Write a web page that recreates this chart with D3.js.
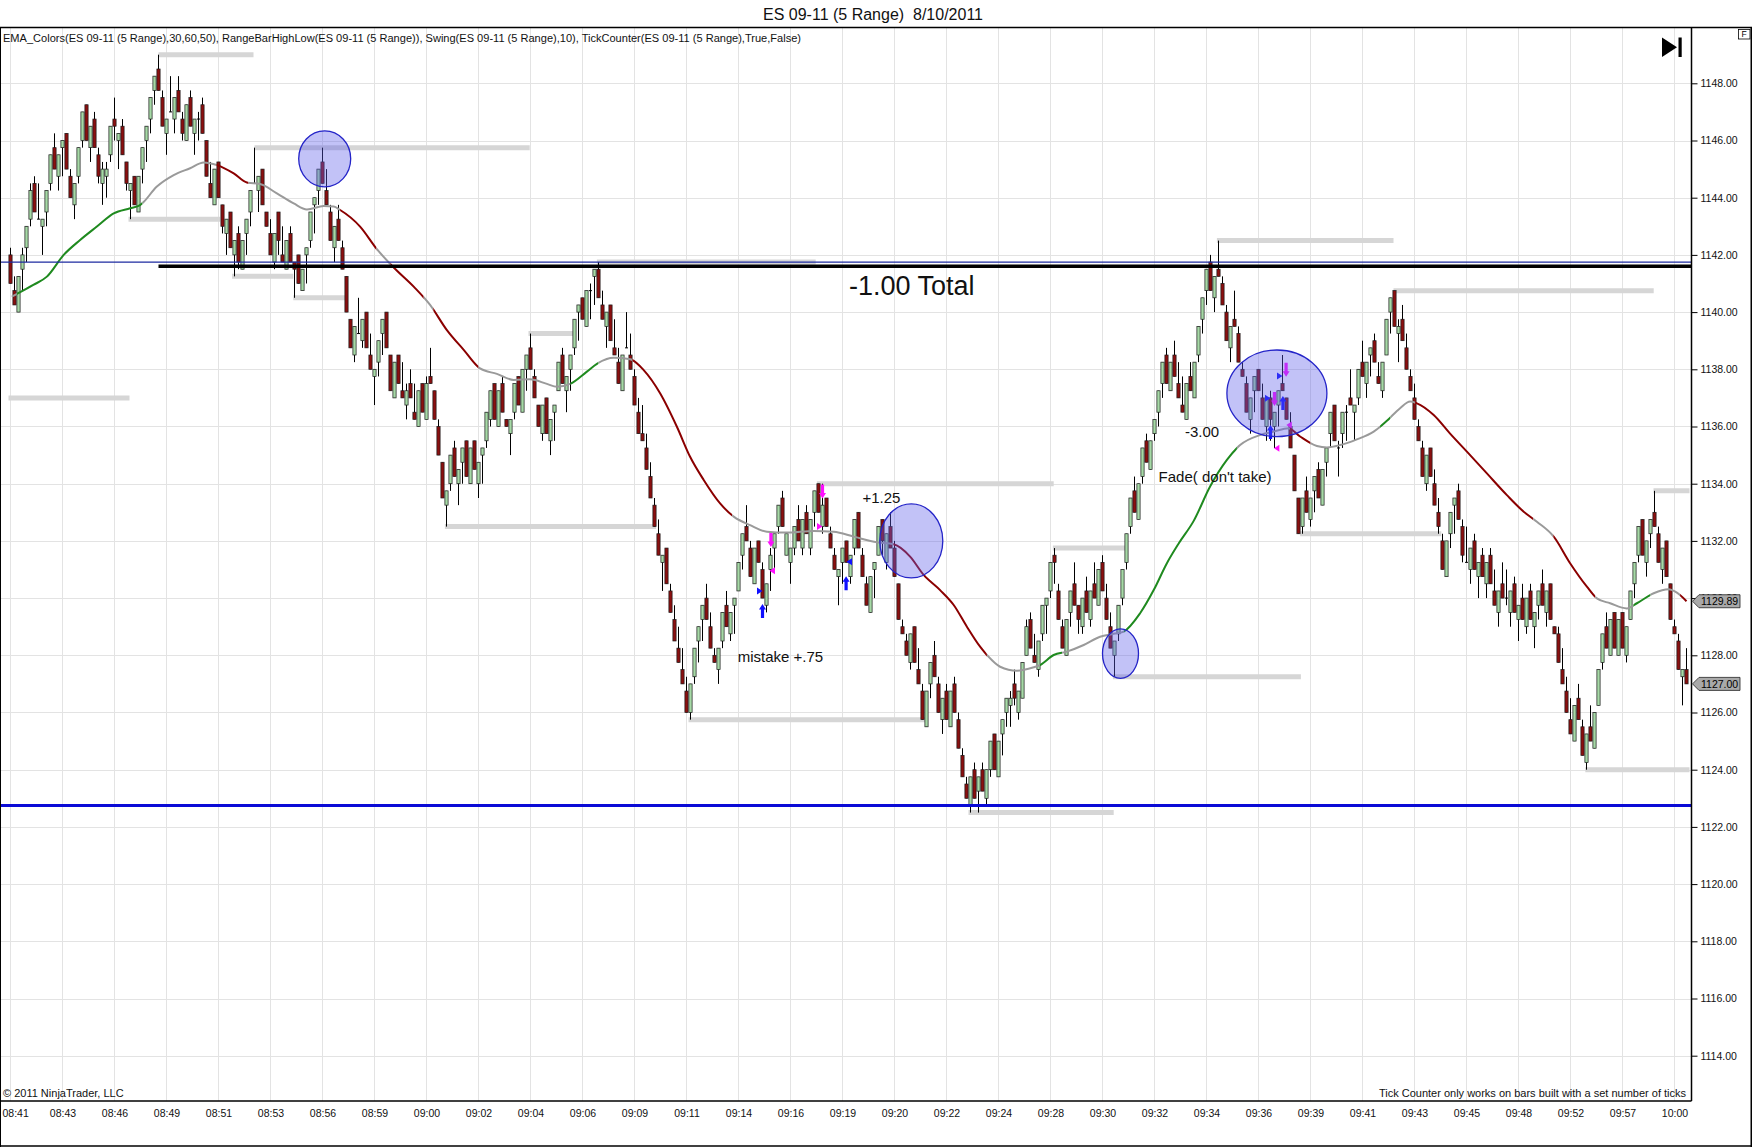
<!DOCTYPE html>
<html><head><meta charset="utf-8">
<script src="https://cdn.jsdelivr.net/npm/d3@7"></script>
<style>
html,body{margin:0;padding:0;background:#fff;}
svg{display:block;font-family:"Liberation Sans",Arial,Helvetica,sans-serif;}
</style>
</head><body>
<svg id="chart" width="1752" height="1147"></svg>
<script>
// ---------------- DATA ----------------
const opens=[1142,1140.75,1140,1141.5,1142.25,1143.25,1144.5,1143.25,1143,1143.5,
1144.5,1145.75,1144.75,1145.75,1146.25,1144.75,1143.75,1144.75,1146,1147.25,
1145.75,1146.75,1145.5,1144.5,1144.75,1145.5,1146.75,1146,1146.5,1145.25,
1144.25,1144.75,1143.5,1145,1146,1146.75,1147.75,1148.5,1147.5,1146.25,
1147,1146.75,1147.75,1146.75,1146,1147.5,1146.25,1146.75,1147.25,1146,
1144.5,1143.75,1145.25,1143.75,1142.75,1143.5,1142,1142.75,1141.5,1142.75,
1143.5,1144.5,1144.25,1145,1143.5,1142.75,1141.75,1143.5,1142,1141.5,
1142.75,1141.75,1142,1140.75,1142,1142.5,1143.75,1144.25,1145.25,1144.25,
1143.5,1142.25,1143.25,1142.25,1141.25,1139.75,1138.5,1139.25,1139,1140,
1138.5,1137.75,1138.25,1139.25,1140,1138.5,1137,1138.5,1137.25,1136.75,
1137.5,1136.5,1136,1137.5,1136.25,1137.75,1137.25,1136,1134.75,1133.25,
1134,1135.25,1134,1134.75,1135.5,1134,1135.5,1134,1135,1135.5,
1136.25,1137.5,1136,1137.5,1136.25,1135.75,1136.5,1137.75,1136.5,1138,
1138.75,1137.75,1136.75,1135.75,1137,1135.5,1136.5,1137.25,1138.5,1137.25,
1138,1138.75,1140,1140.5,1139.5,1140.75,1141.25,1141.5,1140.25,1139.5,
1140.25,1138.75,1138.25,1137.25,1138.75,1138.5,1137.75,1136.5,1135.75,1135.25,
1134.25,1133.25,1132.25,1131.25,1131.75,1130.25,1129.25,1128.25,1127.5,1126.75,
1126,1127.25,1128.5,1129.25,1130,1129,1128,1127.5,1128.5,1129.75,
1128.75,1129.75,1130.25,1131.5,1132.5,1131.75,1130.5,1132,1131,1129.75,
1131,1131.75,1132.5,1133.5,1131.5,1131.25,1131.75,1132.75,1131.75,1133,
1131.75,1133,1134,1132.5,1133.5,1132.25,1131.5,1130.75,1131.25,1132,
1130.75,1131.75,1133,1131.5,1130.5,1129.5,1131,1131.5,1132.75,1131.25,
1132.5,1131.75,1130.5,1129,1128.5,1127.75,1129,1127.5,1126.75,1125.5,
1127,1128,1127,1125.75,1126.75,1125.5,1127,1125.75,1124.5,1123.5,
1122.75,1124,1123.25,1124,1123,1124,1125.25,1123.75,1125.25,1126,
1126.25,1127,1126,1126.5,1128,1129.25,1128,1127.5,1128.75,1129.75,
1130.25,1131.5,1130.25,1129,1128,1129.5,1130.5,1129.75,1129,1130.25,
1129.25,1130.5,1129.75,1131.25,1130,1129,1128,1128.75,1130,1131.25,
1132.5,1133.75,1132.75,1134.25,1135.5,1134.5,1135.75,1136.5,1137.5,1138.5,
1137.25,1138.5,1137.5,1136.75,1136.25,1137.75,1137,1138.5,1139.75,1140.75,
1141.75,1140.5,1141.5,1141,1140,1138.75,1139.75,1139.25,1138,1137.5,
1136.25,1137.25,1138,1137,1136,1137,1136,1136.75,1137.5,1137,
1136,1135,1133.5,1132.5,1133.75,1132.75,1133.75,1134.5,1133.25,1134.75,
1135.75,1136.75,1135.25,1135.75,1136.5,1137,1136.5,1137,1138.25,1137.5,
1138.5,1139,1137.75,1137.25,1138.5,1140,1140.75,1139.25,1139.75,1138.75,
1137.75,1137,1136,1135.25,1134,1135.25,1134,1133,1132,1130.75,
1132.25,1133.25,1133.75,1132.5,1131.25,1131,1132,1130.75,1131.5,1130.5,
1131.5,1130.25,1129.5,1130.5,1130,1129.5,1130.5,1129.25,1130,1129,
1130.25,1129,1129.75,1130.5,1129.5,1130.5,1129,1128.75,1127.5,1126.75,
1125.75,1125,1126.5,1125.5,1124.25,1125.5,1124.75,1126.25,1127.75,1129,
1128,1129.5,1128,1129.5,1128,1129.25,1130.5,1131.5,1132.75,1131.25,
1132.25,1133,1132.25,1131,1132,1130.5,1129,1128.5,1127.25,1127.5];

const highs=[1142.25,1141.25,1141.25,1142.25,1143,1144.5,1144.75,1144.5,1143.25,1144.25,
1145.5,1146.25,1145.5,1146,1146.25,1145,1144.5,1145.75,1147,1147.25,
1146.5,1147,1145.75,1145.25,1145.25,1146.5,1147.5,1146.25,1146.75,1145.25,
1144.5,1144.75,1144.75,1145.75,1146.5,1147.5,1148.25,1149,1147.75,1146.75,
1148.25,1147.5,1148.25,1147,1147.25,1147.75,1146.75,1147,1147.5,1146,
1145.25,1145,1145.25,1143.75,1143.25,1143.5,1142.5,1143,1142.5,1143.25,
1144.25,1145.75,1144.75,1145,1143.5,1143.25,1142.75,1143.5,1143,1142.5,
1143,1141.75,1142,1141.5,1142.25,1143.5,1144,1145,1145.75,1145,
1143.75,1143,1143.75,1142.5,1141.25,1139.75,1139.5,1140.5,1139.75,1140,
1139.25,1138,1139,1139.75,1140,1138.5,1138.25,1138.5,1138.25,1137.5,
1138,1137.5,1137.25,1137.5,1137.75,1138.75,1137.25,1136.25,1134.75,1133.75,
1135,1135.5,1134.5,1135.25,1135.5,1135.25,1135.5,1134.75,1135.25,1136.5,
1137.25,1137.5,1137.25,1137.75,1136.25,1136.25,1137.5,1137.75,1138,1138.5,
1139.25,1138,1136.75,1136.75,1137,1136.25,1136.75,1138.25,1138.75,1137.75,
1138.5,1139.75,1140.25,1140.5,1140.75,1141,1141.5,1141.75,1140.75,1140,
1140.25,1139.75,1138.75,1138.5,1140,1139.25,1138,1137,1136.75,1135.75,
1134.75,1133.5,1132.75,1131.5,1131.75,1130.5,1129.75,1129,1128.25,1127.25,
1127,1128.25,1129,1129.75,1130.5,1129.5,1128.25,1128.25,1129.5,1130.25,
1129.5,1130,1131.25,1132.25,1133.25,1132,1131.75,1132,1131.25,1130.5,
1131.75,1132.25,1133.25,1133.75,1132.25,1131.75,1132.5,1133.25,1132.75,1133.25,
1132.75,1133.75,1134,1134,1133.5,1132.5,1131.75,1131,1131.75,1132,
1131.5,1132.75,1133,1131.75,1130.75,1130.75,1131.25,1132.5,1132.75,1132.25,
1133,1132,1130.5,1129.25,1128.75,1128.75,1129,1128.25,1127,1126.75,
1127.75,1128.5,1127.25,1126.5,1127,1126.75,1127.25,1126,1124.75,1123.75,
1123.75,1124.25,1123.75,1124.25,1124,1125,1125.25,1125,1125.75,1126.5,
1126.75,1127.5,1126.75,1127.75,1129.25,1129.5,1128.75,1128.5,1129.75,1130,
1131.25,1131.75,1130.5,1129.25,1129.25,1130.25,1131.25,1129.75,1130,1130.75,
1130.25,1131.25,1131,1131.5,1130.5,1129.5,1128.5,1129.75,1131,1132.25,
1133.5,1134.25,1134,1135.25,1135.75,1135.5,1136.25,1137.25,1138.25,1138.75,
1138.25,1139,1138.25,1137.75,1137.5,1138.25,1138.25,1139.5,1140.5,1141.5,
1142,1141.25,1142.5,1141.25,1140.25,1139.5,1140.75,1139.5,1138.25,1137.75,
1137,1137.75,1138,1137.5,1137,1137.25,1136.5,1137.25,1138.5,1137,
1136.5,1135,1133.5,1133.5,1134.25,1133.5,1134.25,1134.75,1134.5,1135.25,
1136.5,1136.75,1135.5,1136.5,1136.75,1138,1136.75,1138,1139,1138.25,
1138.75,1139.25,1138.25,1138.25,1139.75,1140.5,1140.75,1139.75,1140.25,1139.25,
1138,1137.5,1136.25,1135.5,1135,1135.25,1134.5,1133.5,1132.25,1132,
1133,1133.5,1134,1132.75,1132.5,1131.75,1132.25,1131.25,1131.75,1131.25,
1131.75,1131,1130.25,1131.25,1131,1130.25,1130.75,1129.75,1130.5,1130,
1130.5,1129.5,1130.25,1131,1130.25,1130.5,1129,1129,1128.25,1127.25,
1126.5,1126.25,1127,1125.75,1125.25,1126.25,1126,1127.5,1128.75,1129.5,
1129.25,1129.5,1129.25,1129.5,1129,1130.25,1131.25,1132.5,1132.75,1132,
1132.75,1133.75,1132.5,1131.75,1132,1130.5,1129.25,1128.75,1127.5,1128.25];

const lows=[1141,1140.25,1140,1140.75,1141.75,1143,1143.5,1143.25,1142,1143,
1144.25,1145,1144.25,1144.75,1145,1144,1143.25,1144.5,1145.75,1146,
1145.25,1145.75,1144.5,1143.75,1144,1145.25,1146,1145,1145.5,1144.25,
1143.25,1143.75,1143.5,1144.5,1145.25,1146.25,1147.25,1147.75,1146.5,1145.5,
1147,1146.25,1147,1146,1146,1146.5,1145.5,1146,1146.25,1144.75,
1144,1143.75,1144,1142.75,1142,1142.25,1141.25,1141.5,1141.5,1142,
1143,1144.5,1143.5,1143.75,1143,1142,1141.5,1142,1141.75,1141.5,
1141.75,1140.5,1141,1140.75,1141,1142.25,1142.75,1143.75,1144.5,1143.75,
1142.5,1141.75,1142.5,1141.5,1140,1138.75,1138.25,1139.25,1138.75,1138.75,
1138,1136.75,1137.75,1138.5,1138.75,1137.25,1137,1137.5,1137,1136.25,
1137,1136.25,1136,1136.5,1136.25,1137.5,1136.25,1135,1133.5,1132.5,
1133.75,1134.25,1133.25,1134,1134.25,1134,1134.5,1133.5,1134,1135.25,
1136,1136.25,1136,1136.5,1136,1135,1136.25,1136.75,1136.5,1137.25,
1138,1137,1136,1135.5,1135.75,1135,1135.5,1137.25,1137.5,1136.5,
1137.25,1138.5,1139,1139.75,1139.5,1139.75,1140.25,1140.5,1139.75,1138.75,
1139,1138.5,1137.5,1137.25,1138.75,1138,1136.75,1135.75,1135.5,1134.5,
1133.5,1132.5,1131.5,1130.25,1130.5,1129.5,1128.5,1127.75,1127,1126,
1125.75,1127,1127.75,1128.5,1129.25,1128.25,1127.75,1127,1128.25,1129,
1128.5,1128.75,1130.25,1131,1132,1130.75,1130.5,1131.25,1130,1129.5,
1130.25,1131,1132.25,1132.5,1131.5,1130.5,1131.5,1132,1131.5,1132.25,
1131.5,1132.5,1133,1132.25,1132.5,1131.75,1131,1129.75,1130.5,1131.25,
1130.5,1131.5,1131.75,1130.75,1129.75,1129.5,1130,1131.5,1131.5,1131,
1131.75,1130.75,1129.25,1128.75,1128,1127.5,1127.75,1127,1125.75,1125.5,
1126.5,1127.25,1126,1125.25,1125.75,1125.5,1126,1124.75,1123.75,1123,
1122.5,1123,1122.5,1123.25,1122.75,1123.75,1124,1123.75,1124.5,1125.5,
1125.5,1126.25,1125.75,1126.5,1128,1128.25,1127.75,1127.25,1128.5,1128.75,
1130,1130.5,1129.25,1128.25,1128,1129,1129.75,1128.75,1128.75,1129.5,
1129,1130,1129.75,1130.25,1129.25,1128.25,1127.25,1128.5,1129.75,1131,
1132.25,1133,1132.75,1134,1134.75,1134.5,1135.5,1136,1137,1137.5,
1137.25,1137.75,1137,1136.5,1136.25,1137.25,1137,1138.25,1139.25,1140.25,
1140.75,1140,1141.25,1140.25,1139,1138.25,1139.5,1138.25,1137.75,1136.5,
1135.75,1136.5,1137.25,1136.25,1135.5,1135.5,1135.25,1136,1137.25,1136.25,
1135.25,1133.75,1132.25,1132.25,1133,1132.5,1133,1133.5,1133.25,1134.25,
1135.25,1135.5,1134.25,1135.25,1135.5,1136.75,1135.5,1136.75,1137.75,1137,
1137.75,1138.25,1137.5,1137,1138.5,1139.25,1139.5,1138.25,1139,1138,
1137.25,1136.25,1135.5,1134.25,1133.75,1134.25,1133.25,1132.25,1131,1130.75,
1131.75,1132.25,1132.75,1131.25,1131.25,1130.5,1131,1130,1130.75,1130,
1130.5,1129.75,1129,1130,1129.75,1129,1129.5,1128.5,1129.25,1128.75,
1129.25,1128.25,1129.25,1129.75,1129,1129.25,1128.75,1127.75,1127,1126,
1125.25,1125,1125.75,1124.5,1124,1125,1124.75,1126.25,1127.5,1128.25,
1128,1128.25,1128,1128.25,1127.75,1129.25,1130,1131.25,1131.5,1130.75,
1131.75,1132.5,1131.25,1130.5,1130.75,1129.25,1128.75,1127.5,1126.25,1127];

const closes=[1141,1140.25,1141.25,1142,1143,1144.25,1143.5,1143.25,1143.25,1144.25,
1145.5,1145,1145.5,1146,1145,1144,1144.5,1145.75,1147,1146,
1146.5,1145.75,1144.75,1145,1145,1146.5,1146.5,1146.25,1145.5,1144.5,
1144.5,1143.75,1144.75,1145.75,1146.5,1147.5,1148.25,1147.75,1146.5,1146.75,
1147,1147.5,1147,1146.25,1147.25,1146.5,1146.75,1146.75,1146.25,1144.75,
1144,1145,1144,1143,1143.25,1142.25,1142.5,1141.75,1142.5,1143.25,
1144.25,1144.5,1144.75,1143.75,1143,1142,1142.75,1142.5,1141.75,1142.5,
1141.75,1141.5,1141,1141.5,1142.25,1143.5,1144,1145,1144.5,1143.75,
1142.5,1143,1142.5,1141.5,1140,1138.75,1139.5,1139.25,1139.75,1138.75,
1138,1138,1139,1139.75,1138.75,1137.25,1138.25,1137.5,1137,1137.25,
1137,1136.25,1137.25,1136.5,1137.5,1137.5,1136.25,1135,1133.5,1133.75,
1135,1134.25,1134.5,1135.25,1134.25,1135.25,1134.5,1134.75,1135.25,1136.5,
1137.25,1136.25,1137.25,1136.5,1136,1136.25,1137.5,1136.75,1138,1138.5,
1138,1137,1136,1136.75,1135.75,1136.25,1136.75,1138.25,1137.5,1137.75,
1138.5,1139.75,1140.25,1139.75,1140.75,1140.75,1141.5,1140.5,1139.75,1140,
1139,1138.5,1137.5,1138.5,1138.75,1138,1136.75,1135.75,1135.5,1134.5,
1133.5,1132.5,1131.5,1131.5,1130.5,1129.5,1128.5,1127.75,1127,1126,
1127,1128.25,1129,1129.75,1129.25,1128.25,1127.75,1128.25,1129.5,1129,
1129.5,1130,1131.25,1132.25,1132,1130.75,1131.75,1131.25,1130,1130.5,
1131.5,1132.25,1133.25,1132.5,1132.25,1131.75,1132.5,1132,1132.75,1132.25,
1132.75,1133.75,1133,1133.25,1132.5,1131.75,1131,1131,1131.75,1131.25,
1131.5,1132.75,1131.75,1130.75,1129.75,1130.75,1131.25,1132.5,1132,1132.25,
1131.75,1130.75,1129.25,1128.75,1128,1128.75,1127.75,1127,1125.75,1126.75,
1127.75,1127.25,1126,1126.5,1125.75,1126.75,1126,1124.75,1123.75,1123,
1123.75,1123,1123.75,1123.25,1124,1125,1124,1125,1125.75,1126.5,
1126.5,1126.5,1126.75,1127.75,1129,1128.25,1127.75,1128.5,1129.75,1130,
1131.25,1131.25,1129.25,1128.25,1129.25,1130.25,1129.75,1129.25,1130,1129.5,
1130.25,1130,1131,1130.25,1129.25,1128.25,1128.5,1129.75,1131,1132.25,
1133.5,1133,1134,1135.25,1134.75,1135.5,1136.25,1137.25,1138.25,1137.5,
1138.25,1137.75,1137,1136.5,1137.5,1137.25,1138.25,1139.5,1140.5,1141.5,
1140.75,1141.25,1141.25,1140.25,1139,1139.5,1139.5,1138.25,1137.75,1136.5,
1137,1137.75,1137.25,1136.25,1137,1136.25,1136.5,1137.25,1137.25,1136.25,
1135.25,1133.75,1132.25,1133.5,1133,1133.5,1134.25,1133.5,1134.5,1135.25,
1136.5,1135.5,1135.25,1136.5,1136.5,1136.75,1136.75,1138,1137.75,1138.25,
1138.75,1138.25,1137.5,1138.25,1139.75,1140.5,1139.5,1139.5,1139,1138,
1137.25,1136.25,1135.5,1134.25,1135,1134.25,1133.25,1132.5,1131,1132,
1133,1133.5,1132.75,1131.5,1131.25,1131.75,1131,1131.25,1130.75,1131.25,
1130.5,1129.75,1130.25,1130,1130,1130.25,1129.5,1129.75,1129.25,1130,
1129.25,1129.5,1130.25,1129.75,1130.25,1129.25,1128.75,1127.75,1127,1126,
1125.25,1126.25,1125.75,1124.5,1125.25,1125,1126,1127.5,1128.75,1128.25,
1129.25,1128.25,1129.25,1128.25,1129,1130.25,1131.25,1132.5,1131.5,1132,
1132.75,1132.5,1131.25,1131.75,1130.75,1129.25,1128.75,1127.5,1127.5,1127];

const timeLabels=["08:41","08:43","08:46","08:49","08:51","08:53","08:56","08:59","09:00","09:02","09:04",
"09:06","09:09","09:11","09:14","09:16","09:19","09:20","09:22","09:24","09:28","09:30","09:32",
"09:34","09:36","09:39","09:41","09:43","09:45","09:48","09:52","09:57","10:00"];
const timeLabelBars=[0,13,26,39,52,65,78,91,104,117,130,143,156,169,182,195,208,221,234,247,260,
273,286,299,312,325,338,351,364,377,390,403,416];
const priceTicks=[1114,1116,1118,1120,1122,1124,1126,1128,1130,1132,1134,1136,1138,1140,1142,1144,1146,1148];

// EMA_Colors line (bar index, value)
const emaBars=[0.3,5.7,9.1,13.3,17.4,21.6,25.8,29.9,32.4,36.6,40.8,44.9,48.3,51.6,55.8,59.1,62.4,66.6,70.8,74.1,
78.3,80.8,82.4,87.4,91.6,95.8,100.8,104.9,109.1,113.3,117.4,121.6,125.8,129.9,134.1,136.6,139.9,144.1,146.6,150.8,
154.9,158.3,162.4,166.6,169.9,173.3,177.4,180.8,184.9,189.1,194.1,200.8,205.8,210.8,216.6,220.8,224.9,228.3,232.4,235.8,
239.1,242.4,244.1,247.4,251.6,255.8,257.4,260.8,264.1,268.3,272.4,275.8,278.3,282.4,285.8,289.1,292,295.8,299.9,304.1,
307.4,312.4,315.8,319.5,322.4,326.6,329.1,332.4,336.6,340.8,344.1,347.4,349.9,351.6,355.8,359.9,364.1,369.1,374.1,378.3,
381.6,385.8,389.9,394.1,396.6,399.9,404.1,406.6,410.8,414.5,416.6,419];
const emaValues=[1140.54,1140.95,1141.24,1142.0,1142.52,1142.99,1143.45,1143.63,1143.74,1144.39,1144.79,1145.03,1145.23,1145.14,1144.85,1144.53,1144.48,1144.15,1143.8,1143.59,
1143.71,1143.69,1143.57,1142.99,1142.2,1141.56,1140.89,1140.25,1139.37,1138.68,1138.03,1137.84,1137.63,1137.65,1137.49,1137.39,1137.49,1137.92,1138.19,1138.4,
1138.35,1137.97,1137.16,1135.99,1134.94,1134.13,1133.31,1132.85,1132.55,1132.32,1132.29,1132.35,1132.32,1132.15,1131.95,1131.88,1131.45,1130.81,1130.28,1129.76,
1129.0,1128.3,1128.01,1127.6,1127.46,1127.58,1127.66,1128.01,1128.13,1128.36,1128.65,1128.75,1128.83,1129.47,1130.28,1131.22,1131.9,1132.7,1133.9,1134.83,
1135.35,1135.7,1135.82,1135.94,1135.65,1135.32,1135.27,1135.35,1135.55,1135.82,1136.2,1136.64,1136.87,1136.81,1136.4,1135.75,1135.12,1134.36,1133.6,1133.02,
1132.67,1132.15,1131.22,1130.4,1129.99,1129.82,1129.64,1129.82,1130.17,1130.31,1130.19,1129.89];
const emaColorStarts=[0,1.6,33,51.5,59.5,82.4,91.5,95,103.3,105.7,117,140,147,155.5,180.4,220.7,244.1,257.4,262.9,278.3,
306.6,319.9,325,342.4,345,351.2,380.7,385.7,396.2,405.7,410,417.4];
const emaColorNames=["flat","up","flat","down","flat","down","flat","down","flat","down","flat","up","flat","down","flat","down","flat","up","flat","up",
"flat","down","flat","up","flat","down","flat","down","flat","up","flat","down"];

// Swing lines (start bar, end bar, price)
const swingStarts=[37,61,29.5,55.4,70.7,-0.5,129.5,146.6,108.6,201.6,169.5,260.6,239.5,275.6,301.6,345.75,322.4,410.75,393.7];
const swingEnds=[60.75,129.8,52.4,70.7,83.7,29.75,140.75,201.3,161.4,260.8,228.7,278.7,275.8,322.6,345.75,410.8,357.7,419.75,419.75];
const swingPrices=[1149,1145.75,1143.25,1141.25,1140.5,1137,1139.25,1141.75,1132.5,1134,1125.75,1131.75,1122.5,1127.25,1142.5,1140.75,1132.25,1133.75,1124];

// Drawn horizontal levels
const levelPrices=[1141.75,1141.6,1122.75];
const levelStartBars=[-3,37,-3];
const levelKinds=["thinBlue","black","blue"];

// Trade markers
const markerBars=[190.1,190.5,187.25,188,203,202.25,209.75,208.9,318.9,317.25,314.25,316,318.1,315,319.7,316.6];
const markerPrices=[1132.03,1130.96,1130.25,1129.55,1133.73,1132.5,1131.27,1130.52,1137.98,1137.77,1136.99,1136.96,1136.82,1135.81,1136.05,1135.24];
const markerKinds=["downM","triLM","triRB","upB","downM","triRM","triLB","upB","downM","triRB","triRB","downM","upB","upB","triLM","triLM"];

// Ellipses (bar, price centre)
const ellipseBars=[78.55,225.2,277.5,316.6];
const ellipsePrices=[1145.36,1132.0,1128.06,1137.16];

const notes=["-1.00 Total","+1.25","mistake +.75","-3.00","Fade( don't take)"];
const lastPrice=1127.00, emaLast=1129.89;

// ---------------- DRAW ----------------
const W=1752,H=1147;
const plotT=27.5, plotB=1101, plotR=1691.5;
const svg=d3.select("#chart");
const x=d3.scaleLinear().domain([0,419]).range([10.5,10.5+4*419]);
const y=d3.scaleLinear().domain([1114,1148]).range([1055.7,83.3]);

svg.append("rect").attr("width",W).attr("height",H).attr("fill","#fff");

svg.append("defs").append("clipPath").attr("id","plotclip").append("rect")
  .attr("x",0).attr("y",plotT).attr("width",plotR).attr("height",plotB-plotT);

const plot=svg.append("g").attr("clip-path","url(#plotclip)");

// grid
plot.append("g").selectAll("line").data(priceTicks).join("line")
  .attr("x1",0).attr("x2",plotR).attr("y1",d=>Math.round(y(d))+0.5).attr("y2",d=>Math.round(y(d))+0.5)
  .attr("stroke","#e3e3e3").attr("stroke-width",1);
plot.append("g").selectAll("line").data(timeLabelBars).join("line")
  .attr("x1",d=>x(d)).attr("x2",d=>x(d)).attr("y1",plotT).attr("y2",plotB)
  .attr("stroke","#e3e3e3").attr("stroke-width",1);

// swing lines
plot.append("g").selectAll("line").data(swingPrices).join("line")
  .attr("x1",(d,i)=>x(swingStarts[i])).attr("x2",(d,i)=>x(swingEnds[i]))
  .attr("y1",d=>y(d)).attr("y2",d=>y(d))
  .attr("stroke","#d6d6d6").attr("stroke-width",5);

// candles
const cg=plot.append("g");
closes.forEach((c,i)=>{
  const o=opens[i],h=highs[i],l=lows[i],cx=x(i);
  cg.append("line").attr("x1",cx).attr("x2",cx).attr("y1",y(h)).attr("y2",y(l))
    .attr("stroke","#000").attr("stroke-width",1);
  if(c===o){
    cg.append("line").attr("x1",cx-1.5).attr("x2",cx+1.5).attr("y1",y(c)).attr("y2",y(c))
      .attr("stroke","#000").attr("stroke-width",1);
  } else {
    const top=y(Math.max(o,c)), bot=y(Math.min(o,c));
    cg.append("rect").attr("x",cx-1.6).attr("width",3.2).attr("y",top).attr("height",Math.max(1,bot-top))
      .attr("fill",c>o?"#a6d9a6":"#8b0f0f").attr("stroke","#1a1a1a").attr("stroke-width",0.7);
  }
});

// EMA colored line
const emaPts=emaBars.map((b,i)=>[b,emaValues[i]]);
const emaLine=d3.line().x(d=>x(d[0])).y(d=>y(d[1])).curve(d3.curveMonotoneX);
const colorMap={up:"#1f8a1f",down:"#8b0000",flat:"#9a9a9a"};
const defs=svg.select("defs");
emaColorStarts.forEach((s,k)=>{
  const e=k<emaColorStarts.length-1?emaColorStarts[k+1]:425;
  const id="emaclip"+k;
  defs.append("clipPath").attr("id",id).append("rect")
    .attr("x",x(s)).attr("y",0).attr("width",x(e)-x(s)).attr("height",H);
  plot.append("path").attr("d",emaLine(emaPts)).attr("fill","none")
    .attr("stroke",colorMap[emaColorNames[k]]).attr("stroke-width",2)
    .attr("clip-path","url(#"+id+")");
});

// horizontal levels
levelPrices.forEach((p,i)=>{
  const k=levelKinds[i];
  const sw=k==="thinBlue"?1.2:(k==="black"?3.5:3);
  const col=k==="thinBlue"?"#1c2aa0":(k==="black"?"#000":"#0b0bd6");
  plot.append("line").attr("x1",x(levelStartBars[i])).attr("x2",plotR)
    .attr("y1",y(p)).attr("y2",y(p)).attr("stroke",col).attr("stroke-width",sw);
});

// markers
const mg=plot.append("g");
markerKinds.forEach((k,i)=>{
  const cx=x(markerBars[i]), cy=y(markerPrices[i]);
  const col=k.endsWith("B")?"#1010ff":"#ff10ff";
  let d;
  if(k==="upB") d=`M${cx},${cy-7}L${cx+3.5},${cy-1.5}L${cx+1.6},${cy-1.5}L${cx+1.6},${cy+7}L${cx-1.6},${cy+7}L${cx-1.6},${cy-1.5}L${cx-3.5},${cy-1.5}Z`;
  else if(k==="downM") d=`M${cx},${cy+7}L${cx+3.5},${cy+1.5}L${cx+1.6},${cy+1.5}L${cx+1.6},${cy-7}L${cx-1.6},${cy-7}L${cx-1.6},${cy+1.5}L${cx-3.5},${cy+1.5}Z`;
  else if(k.startsWith("triR")) d=`M${cx-2.5},${cy-3.5}L${cx+3},${cy}L${cx-2.5},${cy+3.5}Z`;
  else d=`M${cx+2.5},${cy-3.5}L${cx-3},${cy}L${cx+2.5},${cy+3.5}Z`;
  mg.append("path").attr("d",d).attr("fill",col);
});

// ellipses
const ellRx=[26,31.5,18,50], ellRy=[28,37,24.7,43.3];
plot.append("g").selectAll("ellipse").data(ellipseBars).join("ellipse")
  .attr("cx",d=>x(d)).attr("cy",(d,i)=>y(ellipsePrices[i]))
  .attr("rx",(d,i)=>ellRx[i]).attr("ry",(d,i)=>ellRy[i])
  .attr("fill","rgba(95,95,235,0.38)").attr("stroke","#2424c8").attr("stroke-width",1.3);

// notes
const notePos=[[849,295,27],[862.5,503,15],[737.7,662,15],[1185,437,15],[1158.6,482,15]];
notes.forEach((t,i)=>{
  plot.append("text").attr("x",notePos[i][0]).attr("y",notePos[i][1])
    .attr("font-size",notePos[i][2]).attr("fill","#111").text(t);
});

// frame & axes
svg.append("line").attr("x1",0).attr("x2",W).attr("y1",plotT).attr("y2",plotT).attr("stroke","#000").attr("stroke-width",1.5);
svg.append("line").attr("x1",0).attr("x2",W).attr("y1",H-1).attr("y2",H-1).attr("stroke","#000").attr("stroke-width",1.5);
svg.append("line").attr("x1",0.5).attr("x2",0.5).attr("y1",plotT).attr("y2",H).attr("stroke","#000").attr("stroke-width",1);
svg.append("line").attr("x1",W-0.75).attr("x2",W-0.75).attr("y1",plotT).attr("y2",H).attr("stroke","#000").attr("stroke-width",1.5);

const yAxis=d3.axisRight(y).tickValues(priceTicks).tickFormat(d3.format(".2f")).tickSize(6).tickPadding(3);
const ya=svg.append("g").attr("transform",`translate(${plotR},0)`).call(yAxis);
ya.select(".domain").remove();
ya.selectAll("text").attr("font-size",10.5).attr("font-family","Liberation Sans,Arial,sans-serif").attr("fill","#111");
ya.selectAll("line").attr("stroke","#000");
svg.append("line").attr("x1",plotR).attr("x2",plotR).attr("y1",plotT).attr("y2",plotB).attr("stroke","#000").attr("stroke-width",1.5);

const xAxis=d3.axisBottom(x).tickValues(timeLabelBars).tickFormat((d,i)=>timeLabels[i]).tickSize(0).tickPadding(9);
const xa=svg.append("g").attr("transform",`translate(0,${plotB})`).call(xAxis);
xa.select(".domain").remove();
xa.selectAll("text").attr("font-size",10.5).attr("font-family","Liberation Sans,Arial,sans-serif").attr("fill","#111");
// first label kept fully inside the frame
xa.selectAll(".tick").filter((d,i)=>i===0).select("text").attr("text-anchor","start").attr("x",-8.5);
svg.append("line").attr("x1",0).attr("x2",plotR).attr("y1",plotB).attr("y2",plotB).attr("stroke","#000").attr("stroke-width",1.5);

// price markers on axis
[[emaLast],[lastPrice]].forEach(([p])=>{
  const cy=y(p);
  svg.append("path").attr("d",`M${plotR+1},${cy}L${plotR+7.5},${cy-6.5}L1740,${cy-6.5}L1740,${cy+6.5}L${plotR+7.5},${cy+6.5}Z`)
    .attr("fill","#a9a9a9").attr("stroke","#222").attr("stroke-width",0.8);
  svg.append("text").attr("x",plotR+9.5).attr("y",cy+3.8).attr("font-size",10.5).attr("fill","#000").text(d3.format(".2f")(p));
});

// titles and labels
svg.append("text").attr("x",873).attr("y",19.5).attr("text-anchor","middle").attr("font-size",16).attr("fill","#111")
  .text("ES 09-11 (5 Range)\u00a0\u00a08/10/2011");
svg.append("text").attr("x",3).attr("y",42).attr("font-size",10).attr("fill","#111")
  .attr("textLength",798).attr("lengthAdjust","spacingAndGlyphs")
  .text("EMA_Colors(ES 09-11 (5 Range),30,60,50), RangeBarHighLow(ES 09-11 (5 Range)), Swing(ES 09-11 (5 Range),10), TickCounter(ES 09-11 (5 Range),True,False)");
svg.append("text").attr("x",3).attr("y",1097).attr("font-size",11).attr("fill","#111").text("© 2011 NinjaTrader, LLC");
svg.append("text").attr("x",1686).attr("y",1097).attr("text-anchor","end").attr("font-size",11).attr("fill","#111")
  .text("Tick Counter only works on bars built with a set number of ticks");

// scroll-to-end icon and F box
svg.append("path").attr("d","M1662,37.5L1677,47.3L1662,57Z").attr("fill","#000");
svg.append("rect").attr("x",1678.5).attr("y",37.5).attr("width",3.2).attr("height",19.5).attr("fill","#000");
svg.append("rect").attr("x",1738.5).attr("y",29.5).attr("width",11.5).attr("height",9.5).attr("fill","#fff").attr("stroke","#000").attr("stroke-width",0.8);
svg.append("text").attr("x",1744.2).attr("y",37.3).attr("text-anchor","middle").attr("font-size",8.5).attr("fill","#000").text("F");
</script>
</body></html>
